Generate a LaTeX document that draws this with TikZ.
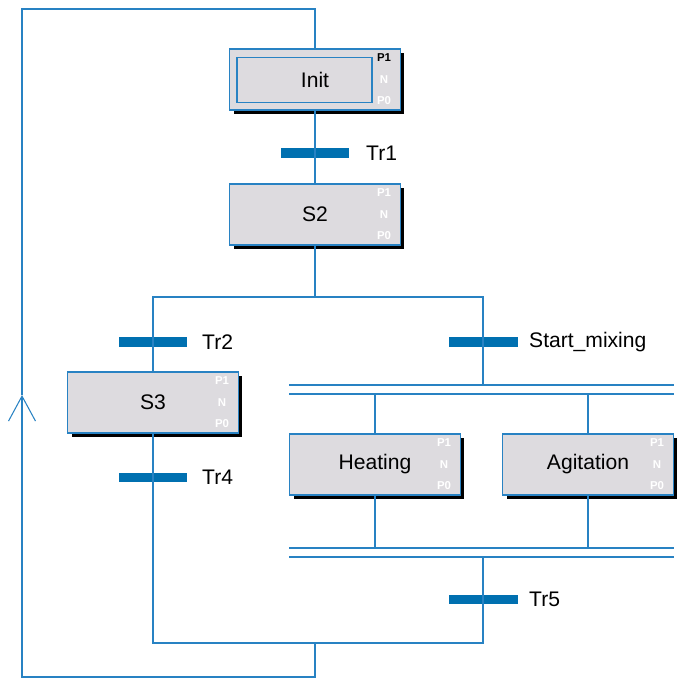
\documentclass[tikz,border=0pt]{standalone}
\usepackage{fontspec}
\setmainfont{Liberation Sans}
\usetikzlibrary{positioning,calc,shadows,arrows.meta}
\definecolor{grafline}{RGB}{40,130,195}
\definecolor{grafbar}{RGB}{0,112,176}
\definecolor{grafstep}{RGB}{221,219,223}
\tikzset{
link/.style={draw=grafline, line width=0.6pt},
stepbox/.style={rectangle, draw=grafline, line width=0.6pt, fill=grafstep,
  minimum width=3.42cm, minimum height=1.22cm, font=\fontsize{12}{14}\selectfont,
  drop shadow={shadow xshift=0.08cm, shadow yshift=-0.08cm, fill=black, opacity=1}},
trbar/.style={rectangle, fill=grafbar, minimum width=1.38cm, minimum height=0.19cm, inner sep=0},
trlabel/.style={inner sep=0, font=\fontsize{12}{14}\selectfont},
qual/.style={text=white, font=\bfseries\fontsize{6.5}{7}\selectfont, inner sep=0},
}
\newcommand{\stepquals}[2][white]{%
  \node[qual,text=#1] (#2p1) at ($(#2.east)+(-17,-22)$) {P1};
  \node[qual] (#2n) at ($(#2.east)+(-17,0)$) {N};
  \node[qual] (#2p0) at ($(#2.east)+(-17,21)$) {P0};
}

\begin{document}
\begin{tikzpicture}[x=0.02cm,y=-0.02cm]
    \useasboundingbox (0,0) rectangle (679,678);

    % steps
    \node[stepbox] (init) at (315,79.5) {Init};
    \node[stepbox] (s2) at (315,214.5) {S2};
    \node[stepbox] (s3) at (153,402.5) {S3};
    \node[stepbox] (heat) at (375,464.5) {Heating};
    \node[stepbox] (agit) at (588,464.5) {Agitation};
    \draw[link] ($(init.north west)+(8,9)$) rectangle ($(init.south east)+(-29,-8)$);
    \stepquals[black]{init}
    \stepquals{s2}
    \stepquals{s3}
    \stepquals{heat}
    \stepquals{agit}

    % transitions
    \node[trbar] (tr1) at (315,153) {};
    \node[trbar] (tr2) at (153,342) {};
    \node[trbar] (smix) at (483,342) {};
    \node[trbar] (tr4) at (153,477.5) {};
    \node[trbar] (tr5) at (483,599.5) {};
    \node[trlabel, anchor=west, right=0.32cm of tr1] (tr1l) {Tr1};
    \node[trlabel, anchor=west, right=0.28cm of tr2] (tr2l) {Tr2};
    \node[trlabel, anchor=west, right=0.22cm of smix] (smixl) {Start\_mixing};
    \node[trlabel, anchor=west, right=0.28cm of tr4] (tr4l) {Tr4};
    \node[trlabel, anchor=west, right=0.22cm of tr5] (tr5l) {Tr5};

    % fixed points
    \coordinate (divl) at (153,297);
    \coordinate (divr) at (483,297);
    \coordinate (mergel) at (153,643);
    \coordinate (merger) at (483,643);
    \coordinate (mergebot) at (315,643);
    \coordinate (looptop) at (22,9);
    \coordinate (loopbot) at (22,677);
    \coordinate (loophead) at (22,395);
    \coordinate (para1) at (289,385);
    \coordinate (para2) at (674,385);
    \coordinate (parb1) at (289,394);
    \coordinate (parb2) at (674,394);
    \coordinate (parc1) at (289,548);
    \coordinate (parc2) at (674,548);
    \coordinate (pard1) at (289,557);
    \coordinate (pard2) at (674,557);

    % links
    \draw[link] (init.south) -- (s2.north);
    \draw[link] (s2.south) -- (s2.south |- divl);
    \draw[link] (s3.north) |- (divr) -- (divr |- para1);
    \draw[link] (s3.south) |- (merger) -- (merger |- pard1);
    \draw[link] (para1) -- (para2);
    \draw[link] (parb1) -- (parb2);
    \draw[link] (parc1) -- (parc2);
    \draw[link] (pard1) -- (pard2);
    \draw[link] (heat.north) -- (heat.north |- parb1);
    \draw[link] (agit.north) -- (agit.north |- parb1);
    \draw[link] (heat.south) -- (heat.south |- parc1);
    \draw[link] (agit.south) -- (agit.south |- parc1);
    \draw[link, -{Straight Barb[length=0.5cm, width=0.54cm]}] (mergebot) |- (loopbot) -- (loophead);
    \draw[link] (loophead) -- (looptop) -| (init.north);
\end{tikzpicture}
\end{document}
